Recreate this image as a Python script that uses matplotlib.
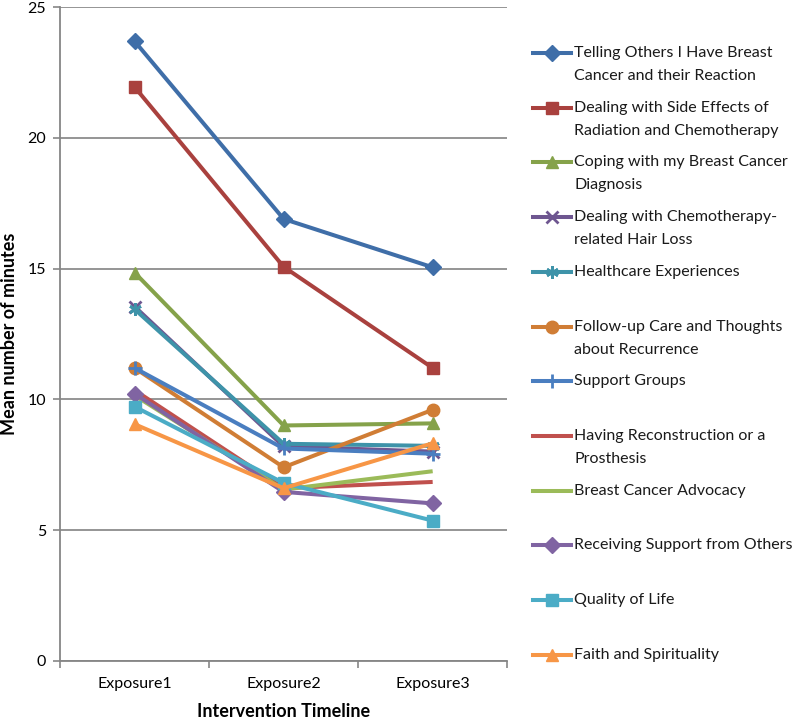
import matplotlib.pyplot as plt
from matplotlib.lines import Line2D

plt.rcParams['font.family'] = ['Lato', 'DejaVu Sans']

exposures = ["Exposure1", "Exposure2", "Exposure3"]

labels = [
    "Telling Others I Have Breast\nCancer and their Reaction",
    "Dealing with Side Effects of\nRadiation and Chemotherapy",
    "Coping with my Breast Cancer\nDiagnosis",
    "Dealing with Chemotherapy-\nrelated Hair Loss",
    "Healthcare Experiences",
    "Follow-up Care and Thoughts\nabout Recurrence",
    "Support Groups",
    "Having Reconstruction or a\nProsthesis",
    "Breast Cancer Advocacy",
    "Receiving Support from Others",
    "Quality of Life",
    "Faith and Spirituality",
]

telling_others = [23.7, 16.9, 15.05]
side_effects = [21.95, 15.07, 11.2]
coping_diagnosis = [14.85, 9.0, 9.08]
hair_loss = [13.55, 8.2, 8.0]
healthcare = [13.45, 8.3, 8.22]
follow_up = [11.2, 7.4, 9.6]
support_groups = [11.2, 8.12, 7.92]
reconstruction = [10.35, 6.6, 6.84]
advocacy = [10.15, 6.55, 7.25]
receiving_support = [10.22, 6.46, 6.02]
quality_of_life = [9.72, 6.8, 5.36]
faith = [9.05, 6.6, 8.32]

series = [telling_others, side_effects, coping_diagnosis, hair_loss, healthcare,
          follow_up, support_groups, reconstruction, advocacy, receiving_support,
          quality_of_life, faith]

colors = ['#3F6EA8', '#A9413E', '#85A24A', '#6E5690', '#3E93A9', '#D07D35',
          '#4A7EC0', '#C0504D', '#9BBB59', '#8064A2', '#4BACC6', '#F79646']
markers = ['D', 's', '^', 'x', (6, 2, 0), 'o', '+', None, None, 'D', 's', '^']
msizes = [8, 9, 9, 8, 9, 9, 10, 0, 0, 8, 9, 9]

fig = plt.figure(figsize=(8, 7.19), dpi=100)
ax = fig.add_axes([0.075, 0.081, 0.559, 0.909])

x = list(range(len(exposures)))
for vals, c, m, ms in zip(series, colors, markers, msizes):
    ax.plot(x, vals, color=c, lw=2.9, marker=m, markersize=ms,
            markeredgewidth=2 if m in ('x', '+', (6, 2, 0)) else 1,
            markerfacecolor=c, markeredgecolor=c, solid_capstyle='butt')

ax.set_xlim(-0.5, 2.5)
ax.set_ylim(0, 25)
ax.set_yticks([0, 5, 10, 15, 20, 25])
ax.set_xticks(x)
ax.set_xticklabels(exposures)
ax.set_xticks([-0.5, 0.5, 1.5, 2.5], minor=True)
ax.tick_params(axis='x', which='major', length=0, pad=12, labelsize=11.5)
ax.tick_params(axis='x', which='minor', length=5, color='#868686', width=1.2)
ax.tick_params(axis='y', length=5, color='#868686', width=1.2, pad=5, labelsize=11.5)
ax.yaxis.grid(True, color='#8C8C8C', lw=1.3)
ax.set_axisbelow(True)
for s in ['top', 'right']:
    ax.spines[s].set_visible(False)
for s in ['left', 'bottom']:
    ax.spines[s].set_color('#868686')
    ax.spines[s].set_linewidth(1.3)

ax.set_xlabel("Intervention Timeline", fontsize=13, fontweight='bold', labelpad=8)
ax.set_ylabel("Mean number of minutes", fontsize=13, fontweight='bold')
ax.yaxis.set_label_coords(-42 / 447, 0.5)

# legend drawn by hand so the handle sits on the first text line
W, H = fig.get_size_inches() * fig.dpi
for i, (lab, c, m, ms) in enumerate(zip(labels, colors, markers, msizes)):
    yc = 53 + 54.7 * i
    fy = 1 - yc / H
    fig.add_artist(Line2D([533 / W, 552 / W, 571 / W], [fy, fy, fy],
                          transform=fig.transFigure, color=c, lw=2.9,
                          marker=m, markevery=[1], markersize=ms,
                          markeredgewidth=2 if m in ('x', '+', (6, 2, 0)) else 1,
                          markerfacecolor=c, markeredgecolor=c))
    for j, line in enumerate(lab.split("\n")):
        fig.text(574 / W, 1 - (yc + 23 * j) / H, line, fontsize=11.5,
                 va='center', ha='left', color='#1a1a1a')

fig.savefig("out.png", dpi=100)
